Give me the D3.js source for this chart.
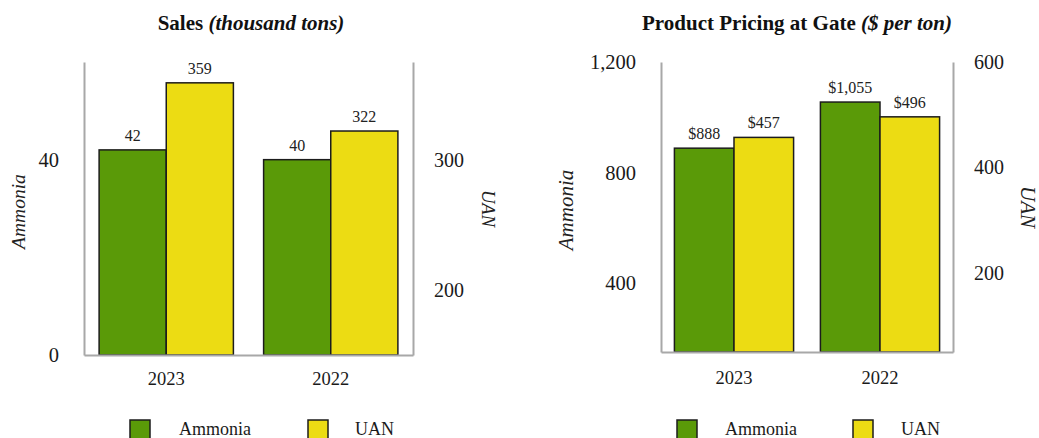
<!DOCTYPE html>
<html>
<head>
<meta charset="utf-8">
<script src="https://cdn.jsdelivr.net/npm/d3@7"></script>
<style>
  html, body { margin: 0; padding: 0; background: #fff; }
  svg { display: block; }
  svg text { font-family: "Liberation Serif", "Times New Roman", serif; }
</style>
</head>
<body>
<svg id="chart" width="1039" height="438"></svg>
<script>
// Categories and series
const years = ["2023", "2022"];
const seriesNames = ["Ammonia", "UAN"];

const salesAmmonia = [42, 40];
const salesUAN = [359, 322];
const salesAmmoniaLabels = ["42", "40"];
const salesUANLabels = ["359", "322"];

const priceAmmonia = [888, 1055];
const priceUAN = [457, 496];
const priceAmmoniaLabels = ["$888", "$1,055"];
const priceUANLabels = ["$457", "$496"];

// Axis domains and tick values
const salesAmmoniaDomain = [0, 60];
const salesUANDomain = [150, 375];
const priceAmmoniaDomain = [150, 1200];
const priceUANDomain = [50, 600];
const salesAmmoniaTicks = [0, 40];
const salesUANTicks = [200, 300];
const priceAmmoniaTicks = [400, 800, 1200];
const priceUANTicks = [200, 400, 600];

const colors = { Ammonia: "#5a9a08", UAN: "#ecdc13" };
const fmt = d3.format(",");
const serif = "'Liberation Serif', 'Times New Roman', serif";
const svg = d3.select("#chart");

function drawPanel(p) {
  const g = svg.append("g").attr("font-family", serif);
  const x = d3.scaleBand().domain(years).range([p.left, p.right]).padding(0);
  const xs = d3.scaleBand().domain(seriesNames).range([0, x.bandwidth()])
    .paddingInner(0).paddingOuter(0.225);
  const yL = d3.scaleLinear().domain(p.leftDomain).range([p.bottom, p.top]);
  const yR = d3.scaleLinear().domain(p.rightDomain).range([p.bottom, p.top]);

  // title
  const t = g.append("text").attr("x", p.titleX).attr("y", 30)
    .attr("text-anchor", "middle").attr("font-size", 21).attr("font-weight", "bold")
    .attr("fill", "#111");
  t.append("tspan").text(p.title + " ");
  t.append("tspan").attr("font-style", "italic").text(p.titleUnit);

  // bars
  const rows = years.map((yr, i) => ({
    year: yr,
    items: [
      { name: "Ammonia", v: p.ammonia[i], label: p.ammoniaLabels[i], y: yL },
      { name: "UAN", v: p.uan[i], label: p.uanLabels[i], y: yR }
    ]
  }));
  const grp = g.selectAll(".grp").data(rows).join("g")
    .attr("transform", d => `translate(${x(d.year)},0)`);
  grp.selectAll("rect").data(d => d.items).join("rect")
    .attr("x", d => xs(d.name))
    .attr("width", xs.bandwidth())
    .attr("y", d => d.y(d.v))
    .attr("height", d => p.bottom - d.y(d.v))
    .attr("fill", d => colors[d.name])
    .attr("stroke", "#1c1c1c").attr("stroke-width", 1.5);
  grp.selectAll("text.val").data(d => d.items).join("text").attr("class", "val")
    .attr("x", d => xs(d.name) + xs.bandwidth() / 2)
    .attr("y", d => d.y(d.v) - 9)
    .attr("text-anchor", "middle").attr("font-size", 16).attr("fill", "#222")
    .text(d => d.label);

  // axes
  const axL = g.append("g").attr("transform", `translate(${p.left},0)`)
    .call(d3.axisLeft(yL).tickValues(p.leftTicks).tickSize(0).tickPadding(25).tickFormat(fmt));
  const axR = g.append("g").attr("transform", `translate(${p.right},0)`)
    .call(d3.axisRight(yR).tickValues(p.rightTicks).tickSize(0).tickPadding(21).tickFormat(fmt));
  const axB = g.append("g").attr("transform", `translate(0,${p.bottom})`)
    .call(d3.axisBottom(x).tickSize(0).tickPadding(p.catPad));
  [axL, axR, axB].forEach(a => {
    a.attr("font-family", serif);
    a.select(".domain").attr("stroke", "#a8a8a8").attr("stroke-width", 2);
    a.selectAll("text").attr("fill", "#1a1a1a");
  });
  axL.attr("font-size", 20.5);
  axR.attr("font-size", 20);
  axB.attr("font-size", 18.5);

  // axis titles
  g.append("text")
    .attr("transform", `translate(${p.leftTitleX},${(p.top + p.bottom) / 2 + 3}) rotate(-90)`)
    .attr("text-anchor", "middle").attr("dy", "0.35em")
    .attr("font-style", "italic").attr("font-size", p.leftTitleSize).attr("fill", "#222")
    .text("Ammonia");
  g.append("text")
    .attr("transform", `translate(${p.rightTitleX},${(p.top + p.bottom) / 2}) rotate(90)`)
    .attr("text-anchor", "middle").attr("dy", "0.35em")
    .attr("font-style", "italic").attr("font-size", p.rightTitleSize).attr("fill", "#222")
    .text("UAN");

  // legend
  const lg = g.selectAll(".lg").data(seriesNames).join("g")
    .attr("transform", (d, i) => `translate(${p.legendX[i]},420)`);
  lg.append("rect").attr("width", 20).attr("height", 20)
    .attr("fill", d => colors[d]).attr("stroke", "#1c1c1c").attr("stroke-width", 1.5);
  lg.append("text").attr("x", (d, i) => p.legendTextDx[i]).attr("y", 14.5)
    .attr("font-size", 18).attr("fill", "#1a1a1a")
    .text(d => d);
}

drawPanel({
  left: 84, right: 413, top: 62, bottom: 355,
  title: "Sales", titleUnit: "(thousand tons)", titleX: 251,
  ammonia: salesAmmonia, uan: salesUAN,
  ammoniaLabels: salesAmmoniaLabels, uanLabels: salesUANLabels,
  leftDomain: salesAmmoniaDomain, rightDomain: salesUANDomain,
  leftTicks: salesAmmoniaTicks, rightTicks: salesUANTicks,
  catPad: 17,
  leftTitleX: 18, rightTitleX: 488, leftTitleSize: 19.5, rightTitleSize: 18.5,
  legendX: [130, 308], legendTextDx: [49, 47]
});

drawPanel({
  left: 661, right: 953, top: 62, bottom: 352,
  title: "Product Pricing at Gate", titleUnit: "($ per ton)", titleX: 797,
  ammonia: priceAmmonia, uan: priceUAN,
  ammoniaLabels: priceAmmoniaLabels, uanLabels: priceUANLabels,
  leftDomain: priceAmmoniaDomain, rightDomain: priceUANDomain,
  leftTicks: priceAmmoniaTicks, rightTicks: priceUANTicks,
  catPad: 19,
  leftTitleX: 566, rightTitleX: 1028, leftTitleSize: 21, rightTitleSize: 21,
  legendX: [677, 853], legendTextDx: [48, 48]
});
</script>
</body>
</html>
